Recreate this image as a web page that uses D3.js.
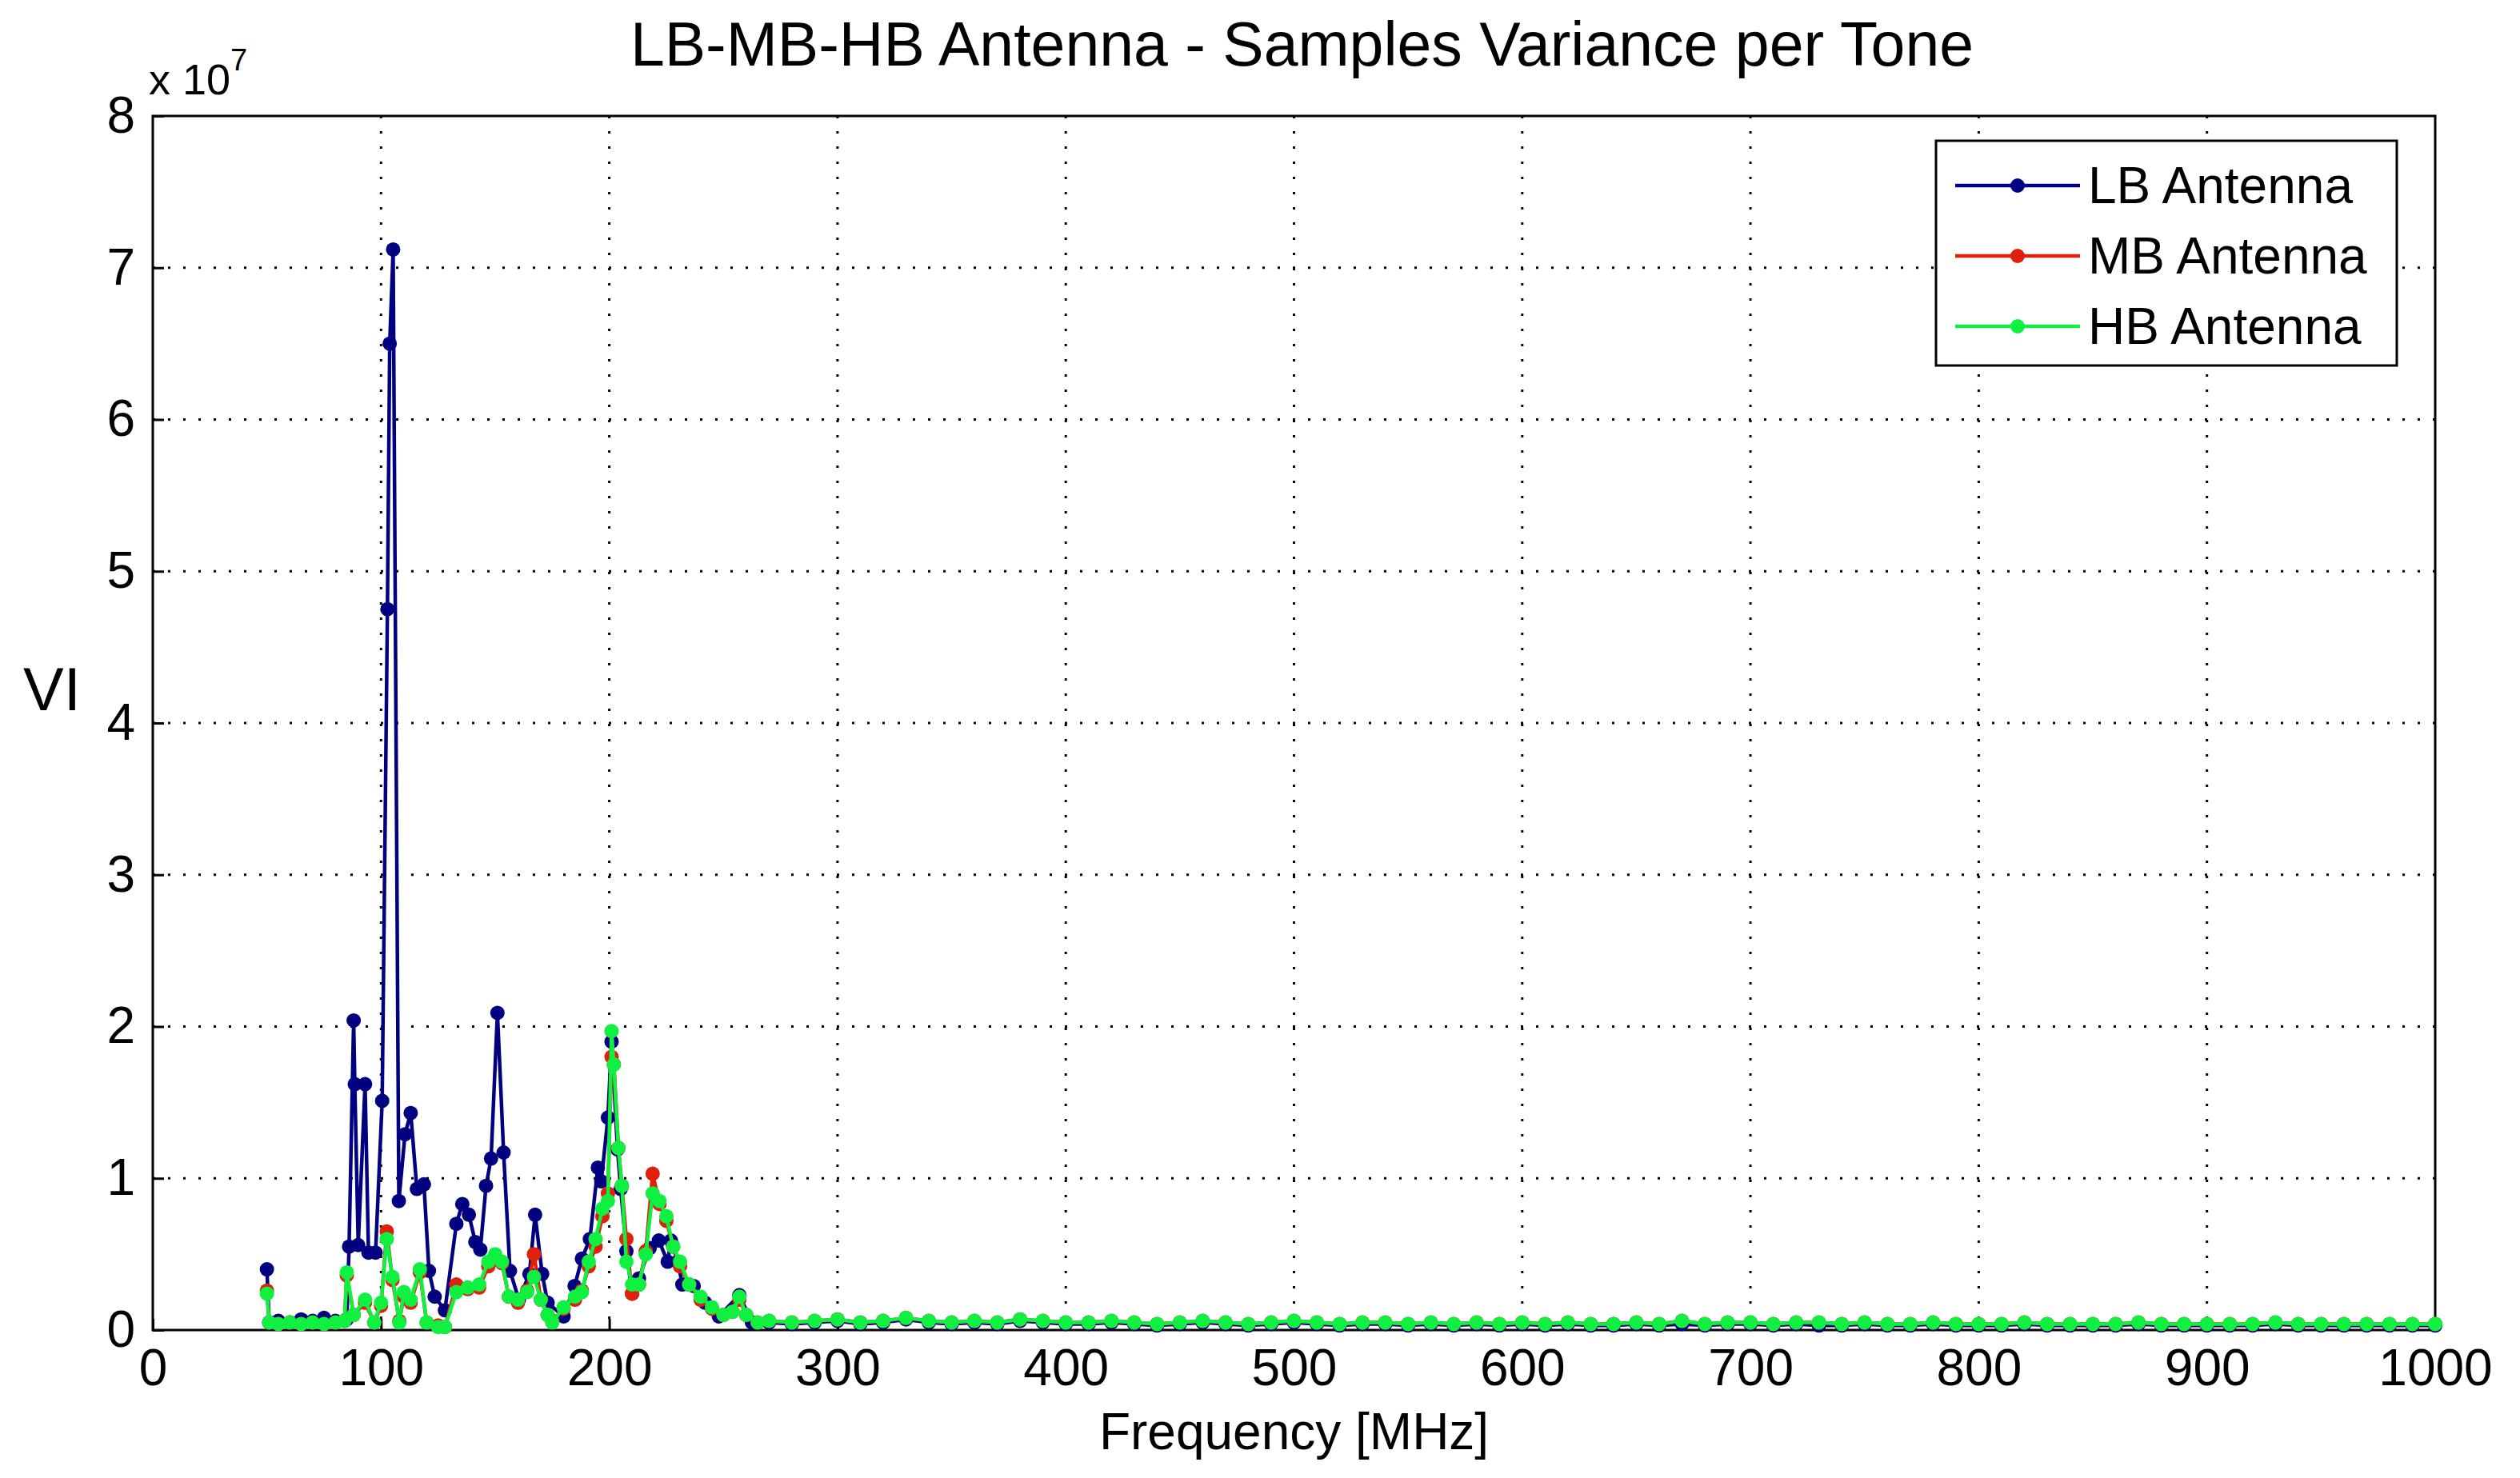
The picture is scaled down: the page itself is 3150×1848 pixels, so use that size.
<!DOCTYPE html>
<html><head><meta charset="utf-8">
<script src="https://cdn.jsdelivr.net/npm/d3@7"></script>
<style>body{margin:0;background:#fff}text{font-family:"Liberation Sans",Arial,sans-serif}</style>
</head><body>
<script>
// values in units of 1e7
var lbFreq = [50,51,55,60,65,70,75,80,85,86,88,88.5,90,93,94.5,97.6,100.5,102.8,103.8,105.3,107.8,110.5,113,115.7,118.8,121,123.5,128,133,135.6,138.5,141.3,143.5,146,148.2,151,153.7,156.5,160.4,165,167.5,170.6,173,180,184.8,188,191.5,195,196.5,199.4,201,203.6,205,207.5,210,213,217.7,221.7,225.6,227,230,232,237,242,248,257,262.5];
var lbVals = [0.40,0.05,0.06,0.05,0.07,0.06,0.08,0.06,0.07,0.55,2.04,1.62,0.56,1.62,0.51,0.51,1.51,4.75,6.5,7.12,0.85,1.29,1.43,0.93,0.96,0.39,0.22,0.13,0.70,0.83,0.76,0.58,0.53,0.95,1.13,2.09,1.17,0.39,0.20,0.37,0.76,0.37,0.18,0.09,0.29,0.47,0.60,1.07,0.98,1.40,1.90,1.19,0.93,0.52,0.24,0.34,0.54,0.59,0.45,0.59,0.45,0.30,0.29,0.18,0.09,0.23,0.05];
var hbFreq = [50,51,55,60,65,70,75,80,84,85,88,93,97,100,102.5,105,108,110,113,117,120,125,128,133,138,143,147,150,153,156,160,164,167,170,173,175,180,185,188,191,194,197,199.4,201,202,204,205.5,207.5,210,213,216,219,222,225,228,231,235,240,245,250,254,257,260,265];
var hbVals = [0.24,0.05,0.04,0.05,0.04,0.05,0.04,0.05,0.06,0.38,0.10,0.20,0.05,0.18,0.60,0.35,0.05,0.25,0.20,0.40,0.05,0.02,0.02,0.25,0.28,0.30,0.45,0.50,0.45,0.22,0.20,0.25,0.35,0.20,0.10,0.05,0.15,0.22,0.25,0.45,0.60,0.80,0.85,1.97,1.75,1.20,0.95,0.45,0.30,0.30,0.50,0.90,0.85,0.75,0.55,0.45,0.30,0.22,0.15,0.10,0.12,0.22,0.10,0.05];
var mbVals = [0.26,0.05,0.04,0.05,0.04,0.05,0.04,0.05,0.06,0.36,0.10,0.18,0.05,0.16,0.65,0.33,0.06,0.22,0.18,0.38,0.05,0.03,0.02,0.30,0.27,0.28,0.42,0.48,0.44,0.22,0.18,0.26,0.50,0.20,0.10,0.06,0.14,0.20,0.26,0.42,0.55,0.75,0.90,1.80,1.75,1.20,0.95,0.60,0.24,0.30,0.52,1.03,0.83,0.72,0.55,0.42,0.30,0.20,0.14,0.10,0.12,0.20,0.10,0.05];
var tailFreq = [270,280,290,300,310,320,330,340,350,360,370,380,390,400,410,420,430,440,450,460,470,480,490,500,510,520,530,540,550,560,570,580,590,600,610,620,630,640,650,660,670,680,690,700,710,720,730,740,750,760,770,780,790,800,810,820,830,840,850,860,870,880,890,900,910,920,930,940,950,960,970,980,990,1000];
var tailLB = [0.05,0.04,0.05,0.06,0.04,0.05,0.07,0.05,0.04,0.05,0.04,0.06,0.05,0.04,0.04,0.05,0.04,0.03,0.04,0.05,0.04,0.03,0.04,0.05,0.04,0.03,0.04,0.04,0.03,0.04,0.03,0.04,0.03,0.04,0.03,0.04,0.03,0.03,0.04,0.03,0.04,0.03,0.04,0.04,0.03,0.04,0.03,0.03,0.04,0.03,0.03,0.04,0.03,0.03,0.03,0.04,0.03,0.03,0.03,0.03,0.04,0.03,0.03,0.03,0.03,0.03,0.04,0.03,0.03,0.03,0.03,0.03,0.03,0.03];
var tailHB = [0.06,0.05,0.06,0.07,0.05,0.06,0.08,0.06,0.05,0.06,0.05,0.07,0.06,0.05,0.05,0.06,0.05,0.04,0.05,0.06,0.05,0.04,0.05,0.06,0.05,0.04,0.05,0.05,0.04,0.05,0.04,0.05,0.04,0.05,0.04,0.05,0.04,0.04,0.05,0.04,0.06,0.04,0.05,0.05,0.04,0.05,0.05,0.04,0.05,0.04,0.04,0.05,0.04,0.04,0.04,0.05,0.04,0.04,0.04,0.04,0.05,0.04,0.04,0.04,0.04,0.04,0.05,0.04,0.04,0.04,0.04,0.04,0.04,0.04];
var xTicks = [0,100,200,300,400,500,600,700,800,900,1000];
var yTicks = [0,1,2,3,4,5,6,7,8];

var W = 3150, H = 1848;
var L = 191, R = 3044, T = 145, B = 1663;
var svg = d3.select('body').append('svg').attr('width', W).attr('height', H);
var x = d3.scaleLinear().domain([0, 1000]).range([L, R]);
var y = d3.scaleLinear().domain([0, 8]).range([B, T]);

// grid
svg.append('g').selectAll('line').data(xTicks.slice(1, -1)).enter().append('line')
  .attr('x1', x).attr('x2', x).attr('y1', T).attr('y2', B)
  .attr('stroke', '#000').attr('stroke-width', 3).attr('stroke-dasharray', '3,16');
svg.append('g').selectAll('line').data(yTicks.slice(1, -1)).enter().append('line')
  .attr('y1', y).attr('y2', y).attr('x1', L).attr('x2', R)
  .attr('stroke', '#000').attr('stroke-width', 3).attr('stroke-dasharray', '3,16');

var xAxis = svg.append('g').attr('transform', 'translate(0,' + B + ')')
  .call(d3.axisBottom(x).tickValues(xTicks).tickFormat(d3.format('d')).tickSize(-14).tickPadding(24));
var yAxis = svg.append('g').attr('transform', 'translate(' + L + ',0)')
  .call(d3.axisLeft(y).tickValues(yTicks).tickSize(-14).tickPadding(22));
[xAxis, yAxis].forEach(function (a) {
  a.selectAll('text').attr('font-size', 64).attr('fill', '#000');
  a.selectAll('line,path').attr('stroke', '#000').attr('stroke-width', 3);
  a.select('.domain').remove();
});
svg.append('rect').attr('x', L).attr('y', T).attr('width', R - L).attr('height', B - T)
  .attr('fill', 'none').attr('stroke', '#000').attr('stroke-width', 3);

var series = [
  {name: 'LB Antenna', color: '#000080', f: lbFreq.concat(tailFreq), v: lbVals.concat(tailLB)},
  {name: 'MB Antenna', color: '#e0200c', f: hbFreq.concat(tailFreq), v: mbVals.concat(tailHB)},
  {name: 'HB Antenna', color: '#10f040', f: hbFreq.concat(tailFreq), v: hbVals.concat(tailHB)}
];
var line = d3.line().x(function (d) { return x(d[0]); }).y(function (d) { return y(d[1]); });
series.forEach(function (s) {
  var pts = s.f.map(function (f, i) { return [f, s.v[i]]; });
  svg.append('path').datum(pts).attr('d', line).attr('fill', 'none')
    .attr('stroke', s.color).attr('stroke-width', 4.5);
  svg.append('g').selectAll('circle').data(pts).enter().append('circle')
    .attr('cx', function (d) { return x(d[0]); }).attr('cy', function (d) { return y(d[1]); })
    .attr('r', 9).attr('fill', s.color);
});

// legend
var lg = svg.append('g').attr('transform', 'translate(2420,176)');
lg.append('rect').attr('width', 576).attr('height', 281).attr('fill', '#fff')
  .attr('stroke', '#000').attr('stroke-width', 3);
series.forEach(function (s, i) {
  var yy = 56 + i * 88;
  lg.append('line').attr('x1', 24).attr('x2', 180).attr('y1', yy).attr('y2', yy)
    .attr('stroke', s.color).attr('stroke-width', 4.5);
  lg.append('circle').attr('cx', 102).attr('cy', yy).attr('r', 9).attr('fill', s.color);
  lg.append('text').attr('x', 190).attr('y', yy + 22).attr('font-size', 64).text(s.name);
});

svg.append('text').attr('x', (L + R) / 2 + 10).attr('y', 82).attr('text-anchor', 'middle')
  .attr('font-size', 77).text('LB-MB-HB Antenna - Samples Variance per Tone');
svg.append('text').attr('x', (L + R) / 2).attr('y', 1812).attr('text-anchor', 'middle')
  .attr('font-size', 64).text('Frequency [MHz]');
svg.append('text').attr('x', 65).attr('y', 888).attr('text-anchor', 'middle')
  .attr('font-size', 76).text('VI');
var mult = svg.append('text').attr('x', 186).attr('y', 118).attr('font-size', 54).text('x 10');
mult.append('tspan').attr('font-size', 38).attr('dy', -30).text('7');
</script>
</body></html>
